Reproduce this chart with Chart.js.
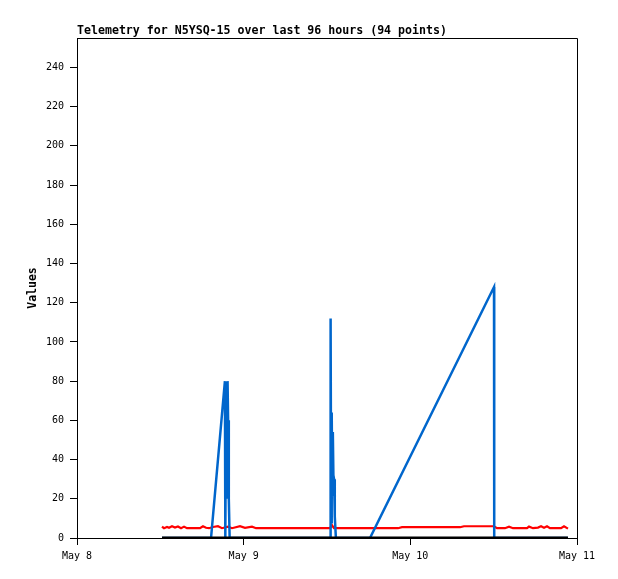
<!DOCTYPE html>
<html>
<head>
<meta charset="utf-8">
<title>Telemetry</title>
<script src="https://cdn.jsdelivr.net/npm/chart.js@4.4.1/dist/chart.umd.min.js"></script>
<style>
    html, body { margin: 0; padding: 0; background: #fff; }
    #wrap { width: 618px; height: 579px; }
</style>
</head>
<body>
<div id="wrap"><canvas id="myChart" width="618" height="579"></canvas></div>
<script>
// Eje X: horas desde el 8 de mayo 00:00
const dayLabels = ['May 8', 'May 9', 'May 10', 'May 11'];

// Serie roja
const redHours = [12.24, 12.53, 12.96, 13.25, 13.68, 14.11, 14.54, 14.98, 15.41, 15.84,
    17.71, 18.14, 18.58, 19.01, 19.58, 20.30, 20.88, 21.74, 22.32, 23.47, 24.19, 25.20, 25.78,
    36.43, 36.72, 37.01, 46.22, 46.80, 55.15, 55.73, 60.05, 60.48, 61.63, 62.21, 62.78,
    64.80, 65.09, 65.66, 66.38, 66.82, 67.25, 67.68, 68.11, 69.70, 70.13, 70.70];
const redValues = [5.8, 5.0, 5.6, 5.2, 6.0, 5.3, 5.9, 5.0, 5.8, 5.0,
    5.0, 6.0, 5.2, 5.0, 5.6, 6.0, 5.0, 5.8, 5.0, 6.0, 5.2, 5.8, 5.0,
    5.0, 6.5, 5.0, 5.0, 5.5, 5.5, 6.0, 6.0, 5.0, 5.0, 5.8, 5.0,
    5.0, 5.8, 5.0, 5.3, 6.0, 5.2, 6.0, 5.0, 5.0, 6.0, 4.8];

// Serie azul
const blueHours = [12.24, 19.30, 21.30, 21.36, 21.46, 21.58, 21.68, 21.76, 21.86, 21.98,
    36.45, 36.52, 36.60, 36.68, 36.76, 36.84, 36.92, 37.02, 37.12, 37.28,
    42.19, 60.05, 60.08, 70.70];
const blueValues = [0, 0, 80, 0, 80, 20, 80, 60, 20, 0,
    0, 112, 8, 64, 22, 54, 32, 30, 11, 0,
    0, 128, 0, 0];

// Serie negra
const blackHours = [12.24, 70.70];
const blackValues = [0, 0];

function toPoints(hours, values) {
    return hours.map((h, i) => ({ x: h, y: values[i] }));
}

const mono = "'DejaVu Sans Mono', 'Liberation Mono', monospace";

// Marco superior/derecho y título
const framePlugin = {
    id: 'frame',
    afterDraw(chart) {
        const ctx = chart.ctx;
        const a = chart.chartArea;
        ctx.save();
        ctx.strokeStyle = '#000';
        ctx.lineWidth = 1;
        ctx.beginPath();
        ctx.moveTo(Math.round(a.left) + 0.5, Math.round(a.top) + 0.5);
        ctx.lineTo(Math.round(a.right) + 0.5, Math.round(a.top) + 0.5);
        ctx.lineTo(Math.round(a.right) + 0.5, Math.round(a.bottom) + 0.5);
        ctx.stroke();
        ctx.fillStyle = '#000';
        ctx.font = 'bold 11.6px ' + mono;
        ctx.textAlign = 'left';
        ctx.textBaseline = 'alphabetic';
        ctx.fillText('Telemetry for N5YSQ-15 over last 96 hours (94 points)', a.left, 34);
        ctx.restore();
    }
};

const ctx = document.getElementById('myChart').getContext('2d');
const myChart = new Chart(ctx, {
    type: 'line',
    data: {
        datasets: [
            {
                data: toPoints(blackHours, blackValues),
                borderColor: '#000000',
                borderWidth: 3,
                pointRadius: 0,
                order: 0
            },
            {
                data: toPoints(blueHours, blueValues),
                borderColor: '#0066cc',
                borderWidth: 2.5,
                pointRadius: 0,
                order: 1
            },
            {
                data: toPoints(redHours, redValues),
                borderColor: '#ff0000',
                borderWidth: 2.2,
                pointRadius: 0,
                order: 2
            }
        ]
    },
    options: {
        responsive: false,
        animation: false,
        devicePixelRatio: 1,
        layout: { padding: { left: 0, top: 38, right: 41, bottom: 0 } },
        plugins: {
            legend: { display: false },
            tooltip: { enabled: false }
        },
        elements: { line: { tension: 0 } },
        scales: {
            x: {
                type: 'linear',
                min: 0,
                max: 72,
                afterFit(scale) { scale.height = 41; },
                grid: { drawOnChartArea: false, drawTicks: true, tickLength: 7, color: '#000' },
                border: { color: '#000', width: 1 },
                ticks: {
                    stepSize: 24,
                    padding: 5,
                    color: '#000',
                    font: { family: mono, size: 10 },
                    maxRotation: 0,
                    callback: (v) => dayLabels[Math.round(v / 24)]
                }
            },
            y: {
                min: 0,
                max: 255,
                afterFit(scale) { scale.width = 77; },
                afterBuildTicks(scale) {
                    scale.ticks = scale.ticks.filter(t => t.value % 20 === 0);
                },
                grid: { drawOnChartArea: false, drawTicks: true, tickLength: 7, color: '#000' },
                border: { color: '#000', width: 1 },
                ticks: {
                    stepSize: 20,
                    padding: 6,
                    color: '#000',
                    font: { family: mono, size: 10 }
                },
                title: {
                    display: true,
                    text: 'Values',
                    color: '#000',
                    font: { family: mono, size: 11.5, weight: 'bold' },
                    padding: { top: 26, bottom: 0 }
                }
            }
        }
    },
    plugins: [framePlugin]
});
</script>
</body>
</html>
